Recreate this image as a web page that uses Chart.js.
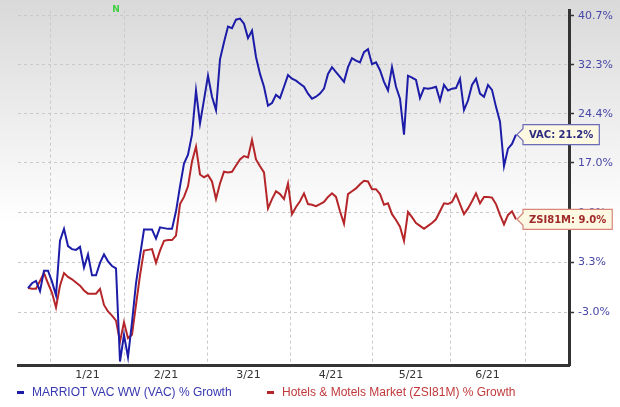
<!DOCTYPE html>
<html lang="en">
<head>
    <meta charset="UTF-8">
    <title>VAC vs Hotels & Motels Market - % Growth</title>
    <script src="https://cdn.jsdelivr.net/npm/chart.js"></script>
    <style>
        body { margin: 0; background: #fff; }
        #wrap { width: 620px; height: 407px; }
    </style>
</head>
<body>
    <div id="wrap"><canvas id="growthChart" width="620" height="407"></canvas></div>

    <script>
        // % growth, one value per trading day
        var vacGrowth = [
            0.0, 0.6, 0.9, -0.4, 2.2, 2.2, 0.8, -0.9, 6.1, 7.7,
            5.4, 5.0, 4.9, 5.3, 2.6, 4.3, 1.6, 1.6, 3.2, 4.3,
            3.4, 2.8, 2.5, -8.8, -5.7, -8.3, -4.2, 0.6, 4.1, 7.6,
            7.6, 7.6, 6.4, 7.9, 7.8, 7.7, 7.7, 10.1, 13.6, 16.9,
            18.2, 21.2, 28.1, 22.9, 26.6, 30.5, 27.1, 25.0, 33.2, 36.1,
            38.8, 38.5, 40.0, 40.2, 39.3, 36.8, 38.1, 33.6, 30.8, 28.7,
            25.7, 26.1, 27.4, 26.9, 28.7, 30.6, 30.0, 29.7, 29.2, 28.7,
            27.6, 26.8, 27.1, 27.6, 28.4, 30.8, 31.9, 31.1, 30.3, 29.5,
            31.9, 33.4, 33.0, 32.7, 34.4, 34.9, 32.4, 32.7, 31.4, 29.5,
            28.1, 31.9, 28.7, 26.8, 21.2, 30.5, 30.2, 29.8, 26.9, 28.5,
            28.4, 28.5, 28.7, 26.5, 29.0, 28.1, 28.4, 28.5, 30.0, 25.0,
            26.5, 29.0, 30.0, 27.6, 27.1, 29.0, 28.2, 25.5, 23.2, 16.5,
            19.1, 19.8, 21.2
        ];
        var zsiGrowth = [
            0.0, -0.1, -0.1, 0.9, 1.9, 0.6, -0.6, -2.4, 0.3, 1.9,
            1.4, 1.1, 0.7, 0.3, -0.3, -0.7, -0.7, -0.7, -0.1, -2.1,
            -2.9, -3.4, -4.0, -6.5, -4.2, -6.1, -5.7, -2.1, 1.6, 4.8,
            4.9, 5.0, 3.2, 4.8, 6.1, 6.2, 6.2, 6.8, 11.1, 12.1,
            13.6, 17.2, 19.4, 15.3, 14.9, 15.2, 14.3, 11.8, 14.0, 15.7,
            15.6, 15.7, 16.6, 17.5, 18.0, 17.8, 20.4, 17.5, 16.5, 15.6,
            10.5, 11.8, 12.9, 12.5, 11.8, 14.0, 9.7, 10.7, 11.5, 12.6,
            11.1, 11.0, 10.8, 11.1, 11.4, 12.1, 12.6, 12.1, 10.1, 8.4,
            12.5, 12.9, 13.3, 13.9, 14.4, 14.3, 13.2, 13.2, 12.5, 11.0,
            11.2, 9.7, 8.9, 8.0, 6.1, 10.0, 9.3, 8.5, 8.1, 7.7,
            8.1, 8.5, 9.0, 10.1, 11.2, 11.1, 11.4, 12.5, 11.1, 9.7,
            10.5, 11.5, 12.6, 11.2, 12.1, 12.1, 12.0, 11.1, 9.6, 8.3,
            9.6, 10.1, 9.0
        ];

        // y axis ticks (% growth) - zacks uses a log scale on the growth factor
        var yTicks = [40.7, 32.3, 24.4, 17.0, 9.9, 3.3, -3.0];
        var yMin = -9.2, yMax = 41.6;

        // month boundaries on the trading day axis + month labels
        var monthBounds = [5.5, 24.25, 44.75, 65.5, 86, 105.5, 124.25];
        var monthLabels = ['1/21', '2/21', '3/21', '4/21', '5/21', '6/21'];
        var xMin = -2.5, xMax = 135.25;

        var seriesNames = ['MARRIOT VAC WW (VAC) % Growth', 'Hotels & Motels Market (ZSI81M) % Growth'];
        var seriesTags = ['VAC', 'ZSI81M'];
        var seriesColors = ['#1c1ca8', '#b5262a'];

        function toFactor(p) { return 1 + p / 100; }

        var labelPos = [];
        for (var i = 0; i < monthLabels.length; i++) {
            labelPos.push((monthBounds[i] + monthBounds[i + 1]) / 2);
        }

        // background gradient (grey on top fading to white)
        var bgPlugin = {
            id: 'bg',
            beforeDraw: function (chart) {
                var ctx = chart.ctx;
                var g = ctx.createLinearGradient(0, 0, 0, chart.height);
                g.addColorStop(0, '#d9d9d9');
                g.addColorStop(0.55, '#ffffff');
                g.addColorStop(1, '#ffffff');
                ctx.save();
                ctx.fillStyle = g;
                ctx.fillRect(0, 0, chart.width, chart.height);
                ctx.restore();
            }
        };

        // end value boxes, news marker and the legend
        var extrasPlugin = {
            id: 'extras',
            afterDraw: function (chart) {
                var ctx = chart.ctx;
                var xs = chart.scales.x, ys = chart.scales.y;
                var boxText = ['#2b2b80', '#a02a2a'];
                var boxBorder = ['#6a6ab8', '#d8857a'];
                var sets = [vacGrowth, zsiGrowth];

                ctx.save();
                // green "N" marker at the top
                ctx.font = 'bold 9px "DejaVu Sans"';
                ctx.fillStyle = '#3fcf3f';
                ctx.textAlign = 'center';
                ctx.textBaseline = 'middle';
                ctx.fillText('N', 116, 10);

                // callout boxes
                ctx.font = 'bold 10px "DejaVu Sans"';
                for (var s = 0; s < 2; s++) {
                    var data = sets[s];
                    var last = data[data.length - 1];
                    var tx = xs.getPixelForValue(data.length - 1) + 1;
                    var ty = ys.getPixelForValue(toFactor(last));
                    var txt = seriesTags[s] + ': ' + last.toFixed(1) + '%';
                    var w = ctx.measureText(txt).width + 12;
                    var bx = tx + 6, top = ty - 10, bot = ty + 10;
                    ctx.beginPath();
                    ctx.moveTo(tx, ty);
                    ctx.lineTo(bx, ty - 6);
                    ctx.lineTo(bx, top);
                    ctx.lineTo(bx + w, top);
                    ctx.lineTo(bx + w, bot);
                    ctx.lineTo(bx, bot);
                    ctx.lineTo(bx, ty + 6);
                    ctx.closePath();
                    ctx.fillStyle = '#fdf8e2';
                    ctx.fill();
                    ctx.lineWidth = 1.2;
                    ctx.strokeStyle = boxBorder[s];
                    ctx.stroke();
                    ctx.fillStyle = boxText[s];
                    ctx.textAlign = 'left';
                    ctx.fillText(txt, bx + 6, ty + 1);
                }

                // legend
                ctx.font = '12px "Liberation Sans"';
                var lx = [17, 267];
                for (var k = 0; k < 2; k++) {
                    ctx.fillStyle = seriesColors[k];
                    ctx.fillRect(lx[k], 391, 7, 3);
                    ctx.fillStyle = k === 0 ? '#3838b0' : '#c0393b';
                    ctx.textAlign = 'left';
                    ctx.fillText(seriesNames[k], lx[k] + 15, 393);
                }
                ctx.restore();
            }
        };

        var chartConfig = {
            type: 'line',
            data: {
                datasets: [{
                    label: seriesNames[0],
                    data: vacGrowth.map(function (v, i) { return { x: i, y: toFactor(v) }; }),
                    borderColor: seriesColors[0],
                    borderWidth: 2,
                    pointRadius: 0,
                    tension: 0,
                    fill: false
                }, {
                    label: seriesNames[1],
                    data: zsiGrowth.map(function (v, i) { return { x: i, y: toFactor(v) }; }),
                    borderColor: seriesColors[1],
                    borderWidth: 2,
                    pointRadius: 0,
                    tension: 0,
                    fill: false
                }]
            },
            options: {
                responsive: false,
                animation: false,
                layout: { padding: { left: 18, top: 8, right: 0, bottom: 0 } },
                plugins: {
                    legend: { display: false },
                    tooltip: { enabled: false }
                },
                scales: {
                    // gridlines at month boundaries
                    x: {
                        type: 'linear',
                        position: 'bottom',
                        min: xMin,
                        max: xMax,
                        ticks: { display: false },
                        grid: { color: '#c9c9c9', drawTicks: false },
                        border: { display: false, dash: [3, 3] },
                        afterBuildTicks: function (scale) {
                            scale.ticks = monthBounds.map(function (v) { return { value: v }; });
                        },
                        afterFit: function (scale) { scale.height = 0; }
                    },
                    // month labels in between
                    x2: {
                        type: 'linear',
                        position: 'bottom',
                        min: xMin,
                        max: xMax,
                        grid: { display: false, drawTicks: false },
                        border: { display: true, color: '#333333', width: 3 },
                        ticks: {
                            color: '#333333',
                            font: { family: 'DejaVu Sans', size: 11 },
                            padding: 4,
                            maxRotation: 0,
                            autoSkip: false,
                            callback: function (value) {
                                var idx = labelPos.indexOf(value);
                                return idx >= 0 ? monthLabels[idx] : '';
                            }
                        },
                        afterBuildTicks: function (scale) {
                            scale.ticks = labelPos.map(function (v) { return { value: v }; });
                        },
                        afterFit: function (scale) { scale.height = 42; }
                    },
                    y: {
                        type: 'logarithmic',
                        position: 'right',
                        min: toFactor(yMin),
                        max: toFactor(yMax),
                        grid: {
                            color: '#c9c9c9',
                            drawTicks: true,
                            tickLength: 5,
                            tickColor: '#333333',
                            tickWidth: 1.5
                        },
                        border: { display: true, color: '#333333', width: 3, dash: [3, 3] },
                        ticks: {
                            color: '#4848a8',
                            font: { family: 'DejaVu Sans', size: 11 },
                            padding: 4,
                            autoSkip: false,
                            callback: function (value) {
                                return ((value - 1) * 100).toFixed(1) + '%';
                            }
                        },
                        afterBuildTicks: function (scale) {
                            scale.ticks = yTicks.map(function (v) { return { value: toFactor(v) }; });
                        },
                        afterFit: function (scale) { scale.width = 51; }
                    }
                }
            },
            plugins: [bgPlugin, extrasPlugin]
        };

        var growthChart = new Chart(document.getElementById('growthChart'), chartConfig);
    </script>
</body>
</html>
